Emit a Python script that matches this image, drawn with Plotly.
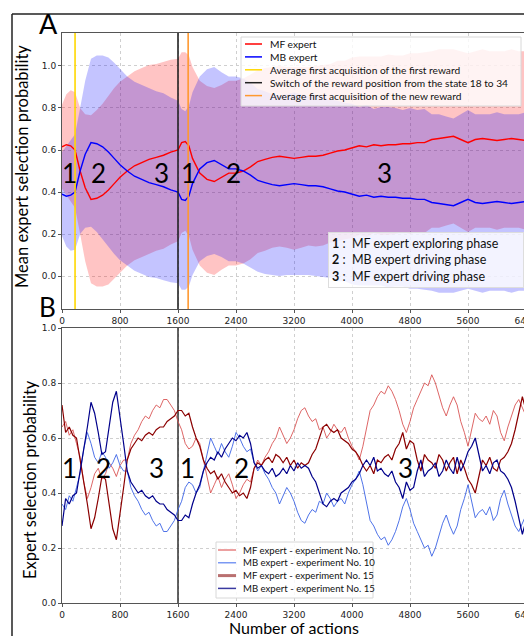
import plotly.graph_objects as go

# ---------------- Panel A data (mean over experiments) ----------------
XA = [0, 60, 120, 180, 250, 320, 400, 480, 560, 640, 720, 800, 900, 1000, 1100, 1200, 1300, 1400,
      1500, 1600, 1650, 1700, 1750, 1800, 1900, 2000, 2100, 2200, 2300, 2400, 2500, 2600, 2700,
      2800, 2900, 3000, 3100, 3200, 3300, 3400, 3500, 3600, 3700, 3800, 3900, 4000, 4100, 4200,
      4300, 4400, 4500, 4600, 4700, 4800, 4900, 5000, 5100, 5200, 5300, 5400, 5500, 5600, 5700,
      5800, 5900, 6000, 6100, 6200, 6300, 6400]
MF_MEAN = [0.615, 0.625, 0.62, 0.60, 0.50, 0.42, 0.365, 0.37, 0.385, 0.41, 0.44, 0.47, 0.50, 0.525,
           0.54, 0.555, 0.565, 0.575, 0.59, 0.60, 0.635, 0.64, 0.62, 0.56, 0.49, 0.46, 0.45, 0.47,
           0.49, 0.49, 0.50, 0.52, 0.545, 0.555, 0.565, 0.57, 0.565, 0.56, 0.565, 0.57, 0.57, 0.575,
           0.585, 0.595, 0.60, 0.61, 0.62, 0.615, 0.625, 0.62, 0.625, 0.625, 0.63, 0.63, 0.635,
           0.635, 0.65, 0.655, 0.66, 0.665, 0.65, 0.635, 0.65, 0.655, 0.65, 0.645, 0.65, 0.655,
           0.65, 0.645]
MB_MEAN = [0.39, 0.38, 0.385, 0.40, 0.50, 0.58, 0.635, 0.63, 0.615, 0.59, 0.56, 0.53, 0.50, 0.475,
           0.46, 0.445, 0.435, 0.425, 0.41, 0.40, 0.365, 0.36, 0.38, 0.44, 0.51, 0.54, 0.55, 0.53,
           0.51, 0.51, 0.50, 0.48, 0.455, 0.445, 0.435, 0.43, 0.435, 0.44, 0.435, 0.43, 0.43, 0.425,
           0.415, 0.405, 0.40, 0.39, 0.38, 0.385, 0.375, 0.38, 0.375, 0.375, 0.37, 0.37, 0.365,
           0.365, 0.35, 0.345, 0.34, 0.335, 0.35, 0.365, 0.35, 0.345, 0.35, 0.355, 0.35, 0.345,
           0.35, 0.355]
STD = [0.20, 0.24, 0.265, 0.275, 0.30, 0.35, 0.40, 0.42, 0.435, 0.45, 0.455, 0.455, 0.45, 0.45,
       0.45, 0.45, 0.445, 0.445, 0.44, 0.435, 0.43, 0.425, 0.43, 0.435, 0.44, 0.445, 0.445, 0.44,
       0.44, 0.44, 0.44, 0.44, 0.435, 0.435, 0.43, 0.43, 0.43, 0.435, 0.43, 0.425, 0.43, 0.43,
       0.425, 0.43, 0.425, 0.43, 0.425, 0.43, 0.42, 0.425, 0.43, 0.425, 0.42, 0.43, 0.425, 0.43,
       0.42, 0.425, 0.42, 0.415, 0.42, 0.425, 0.42, 0.425, 0.42, 0.425, 0.42, 0.425, 0.42, 0.425]

EVENT_X = [180, 1600, 1740]
EVENT_NAMES = ["Average first acquisition of the first reward",
               "Switch of the reward position from the state 18 to 34",
               "Average first acquisition of the new reward"]

# ---------------- Panel B data (two single experiments) ----------------
XB = list(range(0, 6401, 50))
MF10 = [0.64, 0.66, 0.61, 0.63, 0.58, 0.53, 0.44, 0.38, 0.42, 0.47, 0.49, 0.45, 0.47, 0.51, 0.49,
        0.46, 0.50, 0.52, 0.52, 0.58, 0.61, 0.63, 0.66, 0.68, 0.67, 0.70, 0.72, 0.71, 0.74, 0.74,
        0.72, 0.70, 0.66, 0.63, 0.58, 0.56, 0.57, 0.60, 0.58, 0.52, 0.46, 0.40, 0.43, 0.46, 0.42,
        0.45, 0.47, 0.43, 0.38, 0.40, 0.43, 0.45, 0.44, 0.49, 0.52, 0.50, 0.53, 0.55, 0.58, 0.60,
        0.64, 0.61, 0.58, 0.60, 0.63, 0.67, 0.70, 0.71, 0.68, 0.66, 0.67, 0.63, 0.64, 0.60, 0.62,
        0.65, 0.63, 0.62, 0.64, 0.60, 0.57, 0.55, 0.52, 0.57, 0.64, 0.70, 0.72, 0.75, 0.77, 0.76,
        0.79, 0.77, 0.74, 0.70, 0.65, 0.62, 0.66, 0.71, 0.74, 0.77, 0.80, 0.79, 0.83, 0.80, 0.75,
        0.71, 0.68, 0.72, 0.75, 0.72, 0.66, 0.62, 0.57, 0.63, 0.69, 0.67, 0.66, 0.68, 0.65, 0.70,
        0.68, 0.62, 0.59, 0.64, 0.68, 0.72, 0.74, 0.71, 0.68]
MB10 = [0.36, 0.34, 0.39, 0.37, 0.42, 0.47, 0.56, 0.62, 0.58, 0.53, 0.51, 0.55, 0.53, 0.49, 0.51,
        0.54, 0.50, 0.48, 0.48, 0.42, 0.39, 0.37, 0.34, 0.32, 0.33, 0.30, 0.28, 0.29, 0.26, 0.26,
        0.28, 0.30, 0.34, 0.37, 0.42, 0.44, 0.43, 0.40, 0.42, 0.48, 0.54, 0.60, 0.57, 0.54, 0.58,
        0.55, 0.53, 0.57, 0.62, 0.60, 0.57, 0.55, 0.56, 0.51, 0.48, 0.50, 0.47, 0.45, 0.42, 0.40,
        0.36, 0.39, 0.42, 0.40, 0.37, 0.33, 0.30, 0.29, 0.32, 0.34, 0.33, 0.37, 0.36, 0.40, 0.38,
        0.35, 0.37, 0.38, 0.36, 0.40, 0.43, 0.45, 0.48, 0.43, 0.36, 0.30, 0.28, 0.25, 0.23, 0.24,
        0.21, 0.23, 0.26, 0.30, 0.35, 0.38, 0.34, 0.29, 0.26, 0.23, 0.20, 0.21, 0.17, 0.20, 0.25,
        0.29, 0.32, 0.28, 0.25, 0.28, 0.34, 0.38, 0.43, 0.37, 0.31, 0.33, 0.34, 0.32, 0.35, 0.30,
        0.32, 0.38, 0.41, 0.36, 0.32, 0.28, 0.26, 0.29, 0.32]
MF15 = [0.72, 0.62, 0.64, 0.61, 0.60, 0.52, 0.45, 0.36, 0.27, 0.31, 0.38, 0.46, 0.45, 0.36, 0.27,
        0.23, 0.32, 0.42, 0.52, 0.56, 0.58, 0.60, 0.59, 0.61, 0.62, 0.61, 0.63, 0.64, 0.64, 0.66,
        0.67, 0.68, 0.70, 0.70, 0.68, 0.69, 0.64, 0.60, 0.57, 0.52, 0.49, 0.47, 0.48, 0.45, 0.47,
        0.44, 0.42, 0.40, 0.41, 0.39, 0.40, 0.38, 0.42, 0.49, 0.51, 0.50, 0.52, 0.53, 0.51, 0.54,
        0.53, 0.51, 0.53, 0.50, 0.52, 0.49, 0.51, 0.50, 0.51, 0.54, 0.56, 0.60, 0.64, 0.65, 0.63,
        0.62, 0.63, 0.60, 0.59, 0.58, 0.56, 0.55, 0.53, 0.50, 0.48, 0.50, 0.47, 0.52, 0.51, 0.53,
        0.54, 0.52, 0.56, 0.58, 0.62, 0.56, 0.59, 0.58, 0.52, 0.48, 0.54, 0.52, 0.51, 0.49, 0.54,
        0.52, 0.48, 0.51, 0.53, 0.47, 0.52, 0.49, 0.45, 0.43, 0.40, 0.46, 0.52, 0.50, 0.53, 0.49,
        0.48, 0.52, 0.53, 0.55, 0.58, 0.63, 0.69, 0.75, 0.70]
MB15 = [0.28, 0.38, 0.36, 0.39, 0.40, 0.48, 0.55, 0.64, 0.73, 0.69, 0.62, 0.54, 0.55, 0.64, 0.73,
        0.77, 0.68, 0.58, 0.48, 0.44, 0.42, 0.40, 0.41, 0.39, 0.38, 0.39, 0.37, 0.36, 0.36, 0.34,
        0.33, 0.32, 0.30, 0.30, 0.32, 0.31, 0.36, 0.40, 0.43, 0.48, 0.51, 0.53, 0.52, 0.55, 0.53,
        0.56, 0.58, 0.60, 0.59, 0.61, 0.60, 0.62, 0.58, 0.51, 0.49, 0.50, 0.48, 0.47, 0.49, 0.46,
        0.47, 0.49, 0.47, 0.50, 0.48, 0.51, 0.49, 0.50, 0.49, 0.46, 0.44, 0.40, 0.36, 0.35, 0.37,
        0.38, 0.37, 0.40, 0.41, 0.42, 0.44, 0.45, 0.47, 0.50, 0.52, 0.50, 0.53, 0.48, 0.49, 0.47,
        0.46, 0.48, 0.44, 0.42, 0.38, 0.44, 0.41, 0.42, 0.48, 0.52, 0.46, 0.48, 0.49, 0.51, 0.46,
        0.48, 0.52, 0.49, 0.47, 0.53, 0.48, 0.51, 0.55, 0.57, 0.60, 0.54, 0.48, 0.50, 0.47, 0.51,
        0.52, 0.48, 0.47, 0.45, 0.42, 0.37, 0.31, 0.25, 0.30]

SWITCH_X = 1600
X_TICKS = [0, 800, 1600, 2400, 3200, 4000, 4800, 5600, 6400]
Y_TICKS = [0.0, 0.2, 0.4, 0.6, 0.8, 1.0]
PHASE_TEXT = ["1", "2", "3", "1", "2", "3"]
PHASE_XA = [97, 506, 1375, 1738, 2363, 4455]
PHASE_XB = [103, 575, 1297, 1731, 2479, 4731]
PHASE_Y = 0.49

# ---------------- geometry helpers (reference pixel -> paper) ----------------
OFF = 8                      # page body margin
PL, PR, PT, PB = 62, 526, 33, 603   # plot area in reference pixels
W, H = 532, 628
ML, MR, MT, MBOT = PL - OFF, W - (PR - OFF), PT - OFF, H - (PB - OFF)


def PX(px):
    return (px - PL) / (PR - PL)


def PY(py):
    return (PB - py) / (PB - PT)


YA_RANGE = [-0.157, 1.157]
YB_RANGE = [0.0, 1.0]
TXT = "Lato"

fig = go.Figure()

red_up = [m + s for m, s in zip(MF_MEAN, STD)]
red_lo = [m - s for m, s in zip(MF_MEAN, STD)]
blue_up = [m + s for m, s in zip(MB_MEAN, STD)]
blue_lo = [m - s for m, s in zip(MB_MEAN, STD)]
fig.add_trace(go.Scatter(x=XA + XA[::-1], y=red_up + red_lo[::-1], fill="toself",
                         fillcolor="rgba(255,0,0,0.23)", line=dict(width=0), mode="lines",
                         hoverinfo="skip", showlegend=False, xaxis="x", yaxis="y"))
fig.add_trace(go.Scatter(x=XA + XA[::-1], y=blue_up + blue_lo[::-1], fill="toself",
                         fillcolor="rgba(0,0,255,0.23)", line=dict(width=0), mode="lines",
                         hoverinfo="skip", showlegend=False, xaxis="x", yaxis="y"))
fig.add_trace(go.Scatter(x=XA, y=MF_MEAN, mode="lines", line=dict(color="#ff0000", width=1.4),
                         name="MF expert", showlegend=False, xaxis="x", yaxis="y"))
fig.add_trace(go.Scatter(x=XA, y=MB_MEAN, mode="lines", line=dict(color="#0000ff", width=1.4),
                         name="MB expert", showlegend=False, xaxis="x", yaxis="y"))

EVENT_COLORS = ["#ffd700", "#222222", "#ff9930"]
for ex, col, nm in zip(EVENT_X, EVENT_COLORS, EVENT_NAMES):
    fig.add_trace(go.Scatter(x=[ex, ex], y=YA_RANGE, mode="lines", line=dict(color=col, width=1.6),
                             name=nm, showlegend=False, xaxis="x", yaxis="y"))

fig.add_trace(go.Scatter(x=[SWITCH_X, SWITCH_X], y=YB_RANGE, mode="lines",
                         line=dict(color="#222222", width=1.4), showlegend=False,
                         xaxis="x2", yaxis="y2"))
B_SERIES = [(MF10, "rgba(215,75,75,0.85)", 1.0, "MF expert - experiment No. 10"),
            (MB10, "rgba(60,100,230,0.9)", 1.0, "MB expert - experiment No. 10"),
            (MF15, "#8b0000", 1.2, "MF expert - experiment No. 15"),
            (MB15, "#00008b", 1.2, "MB expert - experiment No. 15")]
for ys, col, w, nm in B_SERIES:
    fig.add_trace(go.Scatter(x=XB, y=ys, mode="lines", line=dict(color=col, width=w), name=nm,
                             showlegend=False, xaxis="x2", yaxis="y2"))

axis_common = dict(showgrid=True, gridcolor="#cfcfcf", griddash="dot", gridwidth=1,
                   showline=True, mirror=True, linecolor="#555555", linewidth=1,
                   ticks="outside", ticklen=3, tickcolor="#555555", zeroline=False,
                   ticklabeloverflow="allow", automargin=False,
                   tickfont=dict(family="DejaVu Sans", size=9, color="#222222"))

fig.update_layout(
    width=W, height=H,
    margin=dict(l=ML, r=MR, t=MT, b=MBOT, pad=0, autoexpand=False),
    paper_bgcolor="white", plot_bgcolor="white",
    showlegend=False,
    xaxis=dict(domain=[0, 1], anchor="y", range=[0, 6400], tickvals=X_TICKS, **axis_common),
    yaxis=dict(domain=[PY(309), 1], anchor="x", range=YA_RANGE, tickvals=Y_TICKS,
               tickformat=".1f", **axis_common),
    xaxis2=dict(domain=[0, 1], anchor="y2", range=[0, 6400], tickvals=X_TICKS, **axis_common),
    yaxis2=dict(domain=[0, PY(328)], anchor="x2", range=YB_RANGE, tickvals=Y_TICKS,
                tickformat=".1f", **axis_common),
)

shapes = []
annotations = []


def note(text, x, y, size, xref="paper", yref="paper", angle=0, **kw):
    d = dict(text=text, xref=xref, yref=yref, x=x, y=y, showarrow=False, textangle=angle,
             xanchor="center", yanchor="middle",
             font=dict(family=TXT, size=size, color="black"))
    d.update(kw)
    annotations.append(d)


# outer frame (left & top)
shapes.append(dict(type="line", xref="paper", yref="paper", x0=PX(12), x1=PX(12), y0=PY(14),
                   y1=PY(700), line=dict(color="#222222", width=1.5)))
shapes.append(dict(type="line", xref="paper", yref="paper", x0=PX(12), x1=PX(560), y0=PY(14),
                   y1=PY(14), line=dict(color="#222222", width=1.5)))

note("A", PX(48), PY(24), 27)
note("B", PX(47), PY(307), 26)
note("Mean expert selection probability", PX(22), PY(167), 16.5, angle=-90)
note("Expert selection probability", PX(30), PY(480), 16.5, angle=-90)
note("Number of actions", PX(294), PY(627), 16, height=16, valign="middle")

for t, xa, xb in zip(PHASE_TEXT, PHASE_XA, PHASE_XB):
    note(t, xa, PHASE_Y, 26, xref="x", yref="y")
    note(t, xb, PHASE_Y, 26, xref="x2", yref="y2")

# legend A (manual)
shapes.append(dict(type="rect", xref="paper", yref="paper", x0=PX(241), x1=PX(521), y0=PY(106),
                   y1=PY(37), fillcolor="rgba(255,255,255,0.8)", line=dict(color="#d8d8d8", width=1),
                   layer="above"))
LEG_A = [("MF expert", "#ff0000"), ("MB expert", "#0000ff")] + list(zip(EVENT_NAMES, EVENT_COLORS))
for i, (nm, col) in enumerate(LEG_A):
    yy = 44 + i * 12.9
    shapes.append(dict(type="line", xref="paper", yref="paper", x0=PX(245), x1=PX(262),
                       y0=PY(yy), y1=PY(yy), line=dict(color=col, width=1.5), layer="above"))
    note(nm, PX(268), PY(yy), 10.2, xanchor="left",
         font=dict(family=TXT, size=10.2, color="#111111"))

# phase description box
note("<b>1</b> :  MF expert exploring phase<br><b>2</b> :  MB expert driving phase<br>"
     "<b>3</b> :  MF expert driving phase",
     PX(328), PY(232), 12.5, xanchor="left", yanchor="top", align="left",
     bgcolor="rgba(255,255,255,0.8)", bordercolor="#dddddd", borderwidth=1, borderpad=3,
     width=188, font=dict(family=TXT, size=12.5, color="#111111"))

# legend B (manual)
shapes.append(dict(type="rect", xref="paper", yref="paper", x0=PX(216), x1=PX(373), y0=PY(598),
                   y1=PY(542), fillcolor="rgba(255,255,255,0.85)", line=dict(color="#d8d8d8", width=1),
                   layer="above"))
LEG_B_COLORS = ["#e06060", "#5a7ff0", "#b97070", "#3a3aa0"]
LEG_B_WIDTH = [1.2, 1.2, 3, 1.5]
for i, ((ys, col, w, nm), lc, lw) in enumerate(zip(B_SERIES, LEG_B_COLORS, LEG_B_WIDTH)):
    yy = 550 + i * 12.8
    shapes.append(dict(type="line", xref="paper", yref="paper", x0=PX(218), x1=PX(236),
                       y0=PY(yy), y1=PY(yy), line=dict(color=lc, width=lw), layer="above"))
    note(nm, PX(241), PY(yy), 9.6, xanchor="left",
         font=dict(family=TXT, size=9.6, color="#111111"))

fig.update_layout(shapes=shapes, annotations=annotations)
fig.write_html("out.html")
